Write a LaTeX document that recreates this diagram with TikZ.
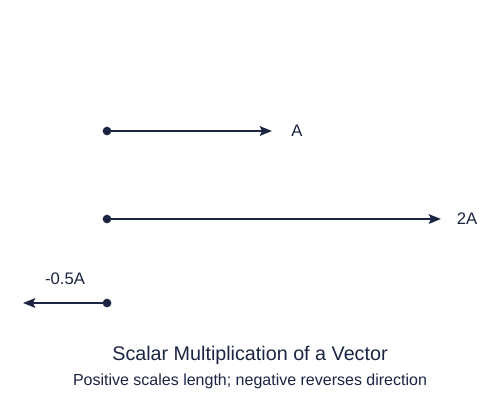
\documentclass[tikz,border=0pt]{standalone}
\usepackage{fontspec}
\setmainfont{Liberation Sans}
\usetikzlibrary{arrows.meta}
\definecolor{navy}{HTML}{1B2442}
\begin{document}
\begin{tikzpicture}[x=0.75pt,y=-0.75pt,
  vec/.style={draw=navy,line width=2.2pt,-{Stealth[length=9pt,width=7pt,inset=1.5pt]}},
  dot/.style={circle,fill=navy,inner sep=0pt,minimum size=6.5pt},
  lbl/.style={text=navy,font=\fontsize{12.5}{14}\selectfont,inner sep=0pt}]
\useasboundingbox (0,0) rectangle (500,405);
\node[dot] (a0) at (107,131) {};
\coordinate (a1) at (272,131);
\draw[vec] (a0.center) -- (a1);
\node[lbl] (la) at (297,131) {A};
\node[dot] (b0) at (107,219) {};
\coordinate (b1) at (441,219);
\draw[vec] (b0.center) -- (b1);
\node[lbl] (lb) at (467,219) {2A};
\node[dot] (c0) at (107,303) {};
\coordinate (c1) at (23,303);
\draw[vec] (c0.center) -- (c1);
\node[lbl] (lc) at (65,279) {-0.5A};
\node[text=navy,font=\fontsize{14.8}{17}\selectfont] (t) at (250,355) {Scalar Multiplication of a Vector};
\node[text=navy,font=\fontsize{12}{14}\selectfont] (s) at (250,381) {Positive scales length; negative reverses direction};
\end{tikzpicture}
\end{document}
